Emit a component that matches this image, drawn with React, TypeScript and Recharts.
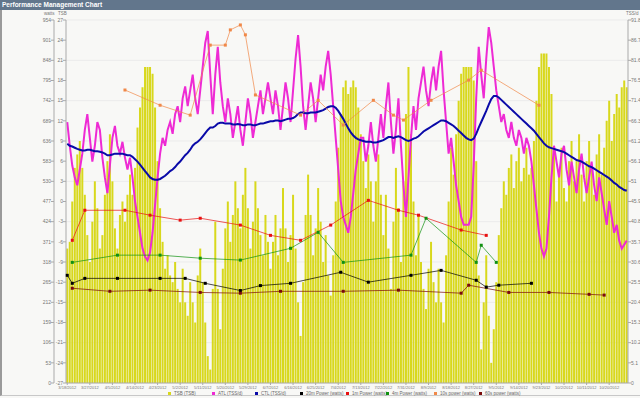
import { Bar, CartesianGrid, ComposedChart, Line, XAxis, YAxis } from "recharts";

// daily values from 3/18/2012 onward
const tsb = [
  -7, -6, 0, 5, 7, 9, 5, 1, -5, -9, -3, 3, -1, -7, -5, 1, 6, 10, 3, -4,
  -7, -2, 0, -3, 1, 4, 1, 5, 11, 14, 17, 20, 20, 20, 19, 14, 6, -1, -6, -10,
  -8, -11, -12, -9, -13, -15, -10, -15, -17, -12, -15, -18, -11, -7, -12, -18, -23, -25, -13, -3,
  -13, -19, -10, -4, 0, -6, -2, 3, -1, -4, 1, 5, -1, -7, -3, 3, -1, -5, -8, -2,
  -6, -10, -6, -2, -8, -4, 2, -4, -9, -5, 1, -7, -15, -20, -12, -2, 4, -2, -8, -4,
  2, -3, -9, -5, -11, -14, -8, 0, 8, 13, 17, 18, 16, 17, 18, 17, 14, 10, 6, 2,
  7, 3, -3, 3, 7, 1, -5, 1, -7, -13, -3, 5, -1, -9, 3, 13, 20, 10, 0, -8,
  -2, -9, -13, -16, -10, -6, -12, -15, -10, -15, -18, -8, 0, 8, 4, 10, 15, 19, 20, 20,
  20, 20, 18, 6, -11, -22, -15, -8, -17, -24, -19, -12, -5, -1, 3, 1, 5, 7, 2, 6,
  8, 3, 5, 8, 4, 5, 9, 15, 20, 22, 22, 22, 20, 16, 8, 0, 4, 8, 2, 0,
  6, 9, 3, 6, 10, 4, 0, 6, 9, 5, 1, 7, 10, 4, 8, 12, 15, 9, 13, 16,
  14, 17, 18, 17,
];

const atl = [
  66, 60, 55, 52, 50, 54, 58, 64, 68, 62, 56, 60, 66, 64, 57, 52, 48, 55, 62, 65,
  60, 58, 61, 57, 54, 57, 52, 46, 42, 38, 34, 32, 31, 33, 38, 45, 52, 58, 62, 60,
  64, 66, 63, 68, 70, 66, 72, 75, 70, 74, 78, 72, 68, 74, 80, 86, 89, 78, 68, 78,
  85, 76, 70, 66, 72, 68, 62, 66, 70, 64, 60, 66, 72, 68, 62, 66, 70, 74, 68, 72,
  76, 72, 68, 74, 70, 64, 70, 76, 72, 66, 74, 82, 88, 80, 70, 64, 70, 76, 72, 66,
  72, 78, 74, 80, 84, 78, 70, 62, 54, 46, 42, 40, 38, 42, 48, 54, 58, 62, 62, 56,
  60, 66, 60, 56, 62, 68, 62, 70, 76, 66, 58, 64, 72, 60, 50, 42, 52, 62, 70, 64,
  72, 76, 80, 74, 70, 76, 80, 74, 80, 84, 74, 66, 58, 62, 56, 50, 46, 42, 40, 40,
  40, 42, 55, 72, 85, 78, 72, 82, 90, 86, 80, 74, 70, 66, 68, 64, 62, 66, 62, 60,
  64, 62, 58, 62, 60, 56, 50, 44, 38, 34, 32, 34, 42, 52, 60, 56, 52, 58, 60, 54,
  50, 56, 52, 48, 54, 58, 52, 48, 52, 56, 50, 46, 52, 48, 44, 40, 46, 42, 38, 40,
  36, 34, 35, 36,
];

const ctl = [
  60.5, 60, 59.8, 59.5, 59.2, 59, 58.8, 58.8, 59, 59, 58.8, 58.6, 58.6, 58.5, 58.3, 58, 57.6, 57.6, 57.8, 58,
  58, 58, 58, 57.8, 57.6, 57.6, 57.2, 56.6, 56, 55.2, 54.4, 53.6, 52.8, 52, 51.6, 51.4, 51.4, 51.6, 52, 52.4,
  53, 53.6, 54, 54.6, 55.4, 56, 56.8, 57.6, 58.2, 59, 60, 60.6, 61, 61.6, 62.4, 63.2, 64, 64.6, 64.6, 65,
  65.6, 65.8, 65.8, 65.6, 65.6, 65.6, 65.4, 65.4, 65.5, 65.4, 65.2, 65.2, 65.4, 65.4, 65.2, 65.2, 65.4, 65.6, 65.6, 65.8,
  66, 66.2, 66.2, 66.4, 66.4, 66.2, 66.4, 66.6, 66.8, 66.8, 67, 67.4, 68, 68.4, 68.4, 68.2, 68.2, 68.4, 68.4, 68.4,
  68.6, 68.8, 69, 69.4, 69.8, 70, 70, 69.6, 68.8, 67.8, 66.8, 65.6, 64.4, 63.4, 62.6, 62, 61.6, 61.4, 61.2, 61,
  61, 61, 60.8, 60.8, 61, 61.2, 61.4, 61.8, 62.2, 62.2, 62, 62.2, 62.4, 62.2, 61.8, 61.4, 61.2, 61.4, 61.8, 62,
  62.4, 63, 63.6, 64, 64.4, 64.8, 65.2, 65.6, 66, 66.4, 66.4, 66.2, 65.8, 65.4, 65, 64.4, 63.8, 63.2, 62.6, 62,
  61.6, 61.4, 61.8, 63, 64.6, 66, 67.4, 68.8, 70.4, 71.8, 72.6, 72.6, 72.2, 71.6, 71, 70.4, 69.8, 69.2, 68.6, 68,
  67.4, 66.8, 66.2, 65.6, 65, 64.4, 63.8, 63, 62.2, 61.4, 60.6, 60, 59.6, 59.4, 59.2, 59, 58.8, 58.6, 58.4, 58,
  57.6, 57.2, 56.8, 56.4, 56.2, 56, 55.6, 55.2, 54.8, 54.6, 54.2, 53.8, 53.4, 53, 52.6, 52.2, 51.8, 51.2, 50.6, 50.2,
  49.6, 49.2, 48.8, 48.6,
];

// power tests: day index + watts
const p20mDays = [0, 2, 7, 20, 37, 47, 55, 69, 77, 89, 109, 120, 137, 149, 163, 167, 172, 185];
const p20mWatts = [283, 262, 275, 275, 275, 275, 262, 243, 256, 262, 291, 265, 283, 296, 270, 252, 257, 262];

const p1mDays = [2, 7, 23, 33, 45, 53, 69, 81, 93, 105, 120, 132, 140, 157, 167];
const p1mWatts = [375, 454, 454, 441, 428, 433, 415, 388, 375, 415, 480, 454, 441, 402, 388];

const p4mDays = [2, 20, 37, 53, 69, 89, 100, 110, 137, 143, 163, 165, 171];
const p4mWatts = [317, 336, 336, 328, 323, 354, 396, 317, 336, 433, 317, 362, 317];

const p10sDays = [23, 37, 49, 57, 63, 65, 69, 71, 75, 93, 100, 110, 122, 130, 134, 145, 160, 165, 188];
const p10sWatts = [770, 730, 704, 888, 888, 928, 941, 915, 757, 704, 743, 678, 743, 704, 691, 743, 796, 822, 730];

const p60sDays = [2, 17, 33, 53, 69, 85, 110, 132, 157, 160, 176, 192, 208, 214];
const p60sWatts = [249, 241, 244, 238, 236, 241, 241, 244, 236, 257, 238, 238, 233, 231];

const wattTicks = [0, 53, 106, 159, 212, 265, 318, 371, 424, 477, 530, 583, 636, 689, 742, 795, 848, 901, 954];
const tsbTicks = [-27, -24, -21, -18, -15, -12, -9, -6, -3, 0, 3, 6, 9, 12, 15, 18, 21, 24, 27];
const tssTicks = [0, 5.1, 10.2, 15.3, 20.4, 25.5, 30.6, 35.7, 40.8, 45.9, 51, 56.1, 61.2, 66.3, 71.4, 76.5, 81.6, 86.7, 91.8];

const COLORS = {
  tsb: "#d8d81c",
  atl: "#ee2ad4",
  ctl: "#0a0aa8",
  p20m: "#000000",
  p1m: "#e81010",
  p4m: "#109010",
  p10s: "#f08848",
  p60s: "#7a0a0a",
};

const legendItems = [
  { key: "tsb", label: "TSB (TSB)", left: 168 },
  { key: "atl", label: "ATL (TSS/d)", left: 212 },
  { key: "ctl", label: "CTL (TSS/d)", left: 255 },
  { key: "p20m", label: "20m Power (watts)", left: 300 },
  { key: "p1m", label: "1m Power (watts)", left: 346 },
  { key: "p4m", label: "4m Power (watts)", left: 386 },
  { key: "p10s", label: "10s power (watts)", left: 434 },
  { key: "p60s", label: "60s power (watts)", left: 479 },
] as const;

function dayLabel(i: number) {
  const d = new Date(2012, 2, 18 + i);
  return `${d.getMonth() + 1}/${d.getDate()}/${d.getFullYear()}`;
}

type Row = {
  day: string;
  tsbRange: [number, number];
  atl: number;
  ctl: number;
  p20m: number | null;
  p1m: number | null;
  p4m: number | null;
  p10s: number | null;
  p60s: number | null;
};

const data: Row[] = tsb.map((v, i) => ({
  day: dayLabel(i),
  tsbRange: [-27, v],
  atl: atl[i],
  ctl: ctl[i],
  p20m: null,
  p1m: null,
  p4m: null,
  p10s: null,
  p60s: null,
}));

function place(key: keyof Row, days: number[], watts: number[]) {
  days.forEach((d, j) => {
    (data[d] as any)[key] = watts[j];
  });
}
place("p20m", p20mDays, p20mWatts);
place("p1m", p1mDays, p1mWatts);
place("p4m", p4mDays, p4mWatts);
place("p10s", p10sDays, p10sWatts);
place("p60s", p60sDays, p60sWatts);

const fmtTss = (v: number) => {
  const s = v.toFixed(1);
  return s.endsWith(".0") ? s.slice(0, -2) : s;
};

const tickStyle = { fontSize: 5, fill: "#777", fontFamily: "Liberation Sans, Arial, sans-serif" };
const xTickStyle = { fontSize: 4, fill: "#777", fontFamily: "Liberation Sans, Arial, sans-serif" };

function squareDot(color: string) {
  return (props: any) => {
    const { cx, cy, index, value } = props;
    if (value == null || cy == null || cx == null) return <g key={index} />;
    return <rect key={index} x={cx - 1.5} y={cy - 1.5} width={3} height={3} fill={color} />;
  };
}

function powerLine(key: keyof typeof COLORS) {
  return (
    <Line
      key={key}
      yAxisId="watts"
      dataKey={key}
      stroke={COLORS[key]}
      strokeWidth={0.7}
      connectNulls
      dot={squareDot(COLORS[key])}
      activeDot={false}
      isAnimationActive={false}
    />
  );
}

export default function App() {
  return (
    <div
      style={{
        position: "fixed",
        left: 0,
        top: 0,
        width: 640,
        height: 398,
        background: "#f8f8f6",
        fontFamily: "Liberation Sans, Arial, sans-serif",
        overflow: "hidden",
      }}
    >
      <div
        style={{
          position: "absolute",
          left: 0,
          top: 0,
          width: 640,
          height: 10,
          background: "#62768c",
          color: "#fff",
          fontSize: 6.5,
          fontWeight: "bold",
          lineHeight: "10px",
          paddingLeft: 2,
          boxSizing: "border-box",
        }}
      >
        Performance Management Chart
      </div>
      <div
        style={{
          position: "absolute",
          left: 0,
          top: 10,
          width: 640,
          height: 386,
          borderLeft: "2px solid #9a9a9a",
          borderBottom: "1px solid #c8c8c8",
          boxSizing: "border-box",
        }}
      />
      <div style={{ position: "absolute", left: 44, top: 11, fontSize: 4.5, color: "#777" }}>watts</div>
      <div style={{ position: "absolute", left: 58, top: 11, fontSize: 4.5, color: "#777" }}>TSB</div>
      <div style={{ position: "absolute", left: 626, top: 11, fontSize: 4.5, color: "#777" }}>TSS/d</div>
      <div style={{ position: "absolute", left: 0, top: 0 }}>
        <ComposedChart
          width={640}
          height={398}
          data={data}
          margin={{ top: 20, right: 0, bottom: 5, left: 20 }}
          barCategoryGap="10%"
        >
          <CartesianGrid yAxisId="tss" vertical={false} stroke="#ebebeb" />
          <XAxis
            dataKey="day"
            interval={8}
            height={10}
            tick={xTickStyle}
            tickSize={2}
            tickMargin={1.5}
            axisLine={{ stroke: "#aaa" }}
            tickLine={{ stroke: "#aaa" }}
          />
          <YAxis
            yAxisId="tsb"
            orientation="left"
            domain={[-27, 27]}
            ticks={tsbTicks}
            width={12}
            tick={tickStyle}
            tickSize={3}
            tickMargin={0}
            axisLine={{ stroke: "#aaa" }}
            tickLine={{ stroke: "#aaa" }}
          />
          <YAxis
            yAxisId="watts"
            orientation="left"
            domain={[0, 954]}
            ticks={wattTicks}
            width={34}
            tick={tickStyle}
            tickSize={3}
            tickMargin={0}
            axisLine={{ stroke: "#aaa" }}
            tickLine={{ stroke: "#aaa" }}
          />
          <YAxis
            yAxisId="tss"
            orientation="right"
            domain={[0, 91.8]}
            ticks={tssTicks}
            tickFormatter={fmtTss}
            width={12}
            tick={tickStyle}
            tickSize={3}
            tickMargin={0}
            axisLine={{ stroke: "#aaa" }}
            tickLine={{ stroke: "#aaa" }}
          />
          <Bar yAxisId="tsb" dataKey="tsbRange" fill={COLORS.tsb} isAnimationActive={false} />
          <Line
            yAxisId="tss"
            dataKey="atl"
            stroke={COLORS.atl}
            strokeWidth={2}
            dot={false}
            activeDot={false}
            isAnimationActive={false}
          />
          <Line
            yAxisId="tss"
            dataKey="ctl"
            stroke={COLORS.ctl}
            strokeWidth={2}
            dot={false}
            activeDot={false}
            isAnimationActive={false}
          />
          {powerLine("p20m")}
          {powerLine("p1m")}
          {powerLine("p4m")}
          {powerLine("p10s")}
          {powerLine("p60s")}
        </ComposedChart>
      </div>
      {legendItems.map((it) => (
        <div
          key={it.key}
          style={{
            position: "absolute",
            left: it.left,
            top: 391,
            display: "flex",
            alignItems: "center",
            fontSize: 4.5,
            color: "#666",
            whiteSpace: "nowrap",
          }}
        >
          <span style={{ display: "inline-block", width: 3, height: 3, background: COLORS[it.key], marginRight: 3 }} />
          {it.label}
        </div>
      ))}
    </div>
  );
}
